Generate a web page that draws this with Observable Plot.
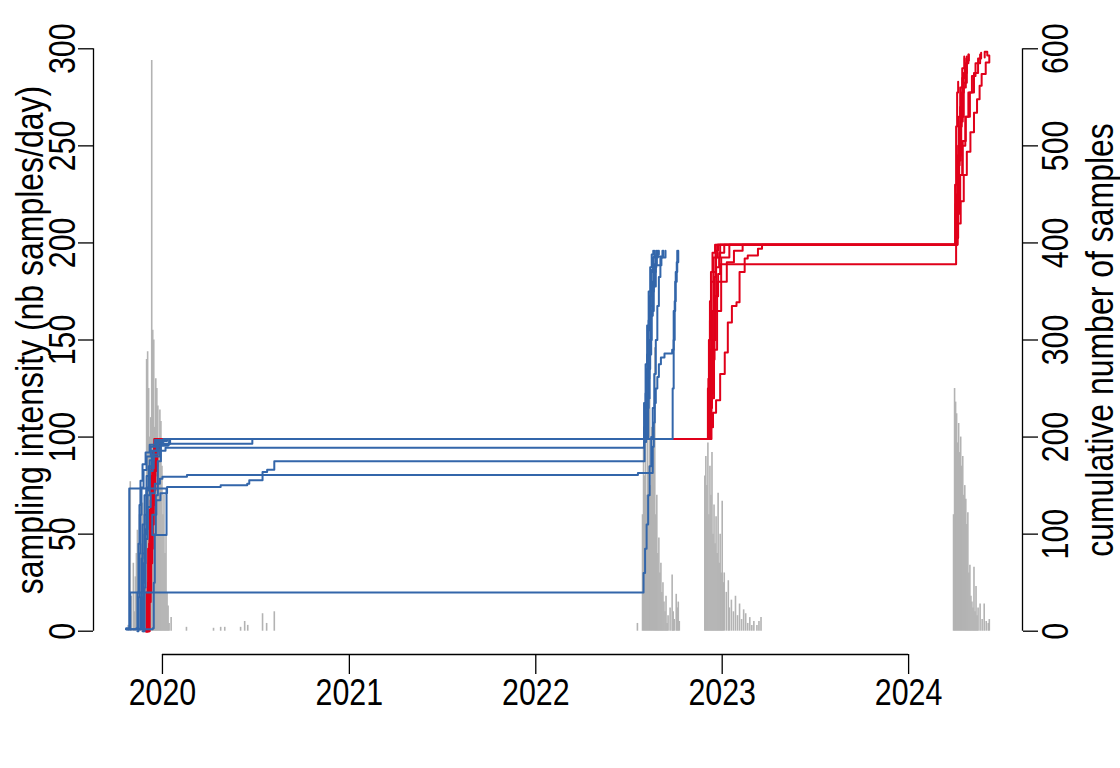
<!DOCTYPE html>
<html><head><meta charset="utf-8">
<script src="https://cdn.jsdelivr.net/npm/d3@7"></script>
<script src="https://cdn.jsdelivr.net/npm/@observablehq/plot@0.6"></script>
<style>html,body{margin:0;padding:0;background:#fff;} #chart{width:1120px;height:768px;}</style>
</head><body><div id="chart"></div>
<script>
// ---- daily sampling intensity (grey bars) ----
const barDates = [
"2019-10-26","2019-10-30","2019-11-01","2019-11-05","2019-11-07","2019-11-09","2019-11-11","2019-11-13","2019-11-15","2019-11-17",
"2019-11-19","2019-11-21","2019-11-23","2019-11-25","2019-11-27","2019-11-29","2019-12-01","2019-12-03","2019-12-05","2019-12-07",
"2019-12-09","2019-12-11","2019-12-13","2019-12-15","2019-12-17","2019-12-19","2019-12-21","2019-12-23","2019-12-25","2019-12-27",
"2019-12-29","2019-12-31","2020-01-02","2020-01-04","2020-01-06","2020-01-08","2020-01-10","2020-01-12","2020-01-14","2020-01-18",
"2020-02-17","2020-04-10","2020-04-24","2020-05-02","2020-06-02","2020-06-10","2020-06-16","2020-07-15","2020-07-23","2020-08-07",
"2022-07-19","2022-07-29","2022-07-31","2022-08-02","2022-08-04","2022-08-06","2022-08-08","2022-08-10","2022-08-12","2022-08-14",
"2022-08-16","2022-08-18","2022-08-20","2022-08-22","2022-08-24","2022-08-26","2022-08-28","2022-08-30","2022-09-01","2022-09-03",
"2022-09-05","2022-09-07","2022-09-09","2022-09-11","2022-09-13","2022-09-15","2022-09-17","2022-09-21","2022-09-25","2022-09-27",
"2022-09-29","2022-10-03","2022-10-05","2022-10-07","2022-10-09",
"2022-11-28","2022-11-30","2022-12-02","2022-12-04","2022-12-06","2022-12-08","2022-12-10","2022-12-12","2022-12-14","2022-12-16",
"2022-12-18","2022-12-20","2022-12-22","2022-12-24","2022-12-26","2022-12-28","2022-12-30","2023-01-01","2023-01-03","2023-01-05",
"2023-01-09","2023-01-13","2023-01-15","2023-01-19","2023-01-23","2023-01-27","2023-01-31","2023-02-04","2023-02-08","2023-02-12",
"2023-02-16","2023-02-20","2023-02-24","2023-02-28","2023-03-04","2023-03-10","2023-03-14","2023-03-18",
"2024-03-29","2024-03-31","2024-04-02","2024-04-04","2024-04-06","2024-04-08","2024-04-10","2024-04-12","2024-04-14","2024-04-16",
"2024-04-18","2024-04-20","2024-04-22","2024-04-24","2024-04-26","2024-04-28","2024-04-30","2024-05-02","2024-05-04","2024-05-06",
"2024-05-08","2024-05-10","2024-05-12","2024-05-14","2024-05-16","2024-05-20","2024-05-24","2024-05-28","2024-06-01","2024-06-05","2024-06-07"
];
const barCounts = [
3,77,18,35,10,28,40,52,30,60,
74,45,66,55,70,60,140,144,125,100,
110,294,155,150,105,130,125,116,95,114,
108,85,60,70,40,50,20,13,4,7,
2,1.5,2,2,2,5,3,9,4,10,
4,60,95,80,110,70,100,85,120,75,
105,90,98,146,60,70,40,48,30,35,
20,25,15,10,18,4,8,12,29,10,
6,19,12,15,5,
80,90,75,97,60,85,70,92,50,65,
45,59,40,71,35,50,30,67,25,30,
20,26,12,16,10,18,8,14,6,11,
9,4,7,3,5,3,5,7,
60,125,118,112,97,107,92,100,85,90,
70,75,68,55,61,30,34,18,15,12,
33,10,23,8,12,14,6,14,5,4,6
];

// ---- cumulative number of samples, blue group ----
const blue1 = [["2019-10-22",2],["2019-11-11",3],["2019-11-13",40],["2019-11-15",90],["2019-11-17",130],["2019-11-19",155],["2019-11-23",172],["2019-11-29",184],["2019-12-07",192],["2019-12-17",197],["2020-01-05",198],["2022-07-29",198],["2022-08-01",235],["2022-08-04",275],["2022-08-07",315],["2022-08-10",350],["2022-08-13",375],["2022-08-16",388],["2022-08-19",392]];
const blue2 = [["2019-11-13",0],["2019-11-15",35],["2019-11-17",80],["2019-11-19",120],["2019-11-21",148],["2019-11-25",166],["2019-12-01",180],["2019-12-09",190],["2019-12-19",196],["2020-01-10",198],["2022-07-31",198],["2022-08-03",230],["2022-08-06",270],["2022-08-09",310],["2022-08-12",345],["2022-08-15",370],["2022-08-18",385],["2022-08-22",392]];
const blue3 = [["2019-10-22",2],["2019-12-13",3],["2019-12-15",50],["2019-12-17",100],["2019-12-19",140],["2019-12-23",175],["2019-12-29",192],["2020-01-14",198],["2022-08-02",198],["2022-08-05",225],["2022-08-08",260],["2022-08-11",300],["2022-08-14",335],["2022-08-17",360],["2022-08-21",378],["2022-08-26",386],["2022-09-08",392]];
const blue4 = [["2019-11-17",2],["2019-11-19",35],["2019-11-21",75],["2019-11-23",110],["2019-11-27",140],["2019-12-01",160],["2019-12-07",176],["2019-12-15",186],["2019-12-25",191],["2020-01-12",193],["2020-06-25",198],["2022-08-04",198],["2022-08-07",230],["2022-08-10",270],["2022-08-13",300],["2022-08-16",330],["2022-08-20",355],["2022-08-24",377],["2022-09-04",385],["2022-09-12",392]];
const blue5 = [["2019-11-19",3],["2019-11-21",40],["2019-11-23",80],["2019-11-27",120],["2019-12-01",148],["2019-12-07",168],["2019-12-15",180],["2019-12-27",186],["2020-01-07",189],["2022-07-29",189],["2022-08-01",210],["2022-08-04",245],["2022-08-07",285],["2022-08-10",320],["2022-08-13",350],["2022-08-16",372],["2022-08-20",386],["2022-08-25",392]];
const blue6 = [["2019-10-22",3],["2019-10-28",45],["2019-10-28",147],["2020-01-09",99],["2019-12-12",120],["2019-12-20",135],["2019-12-28",142],["2020-01-10",148.6],["2020-04-24",150.3],["2020-06-15",152],["2020-06-19",155.5],["2020-07-15",164],["2020-07-24",166.4],["2020-08-07",175],["2022-07-29",175],["2022-08-02",195],["2022-08-05",225],["2022-08-08",260],["2022-08-11",295],["2022-08-14",325],["2022-08-17",350],["2022-08-20",370],["2022-08-24",385],["2022-08-28",392]];
const blue7 = [["2019-11-21",3],["2019-11-23",35],["2019-11-25",70],["2019-11-29",105],["2019-12-03",128],["2019-12-09",142],["2019-12-17",152],["2019-12-27",157],["2020-01-01",159],["2020-02-18",161],["2022-07-20",163],["2022-08-16",163],["2022-08-18",190],["2022-08-20",215],["2022-08-22",235],["2022-08-24",250],["2022-08-27",262],["2022-08-30",275],["2022-09-03",282],["2022-09-10",286],["2022-09-25",290],["2022-09-28",330],["2022-10-01",360],["2022-10-04",380],["2022-10-07",392]];
const blue8 = [["2019-10-22",2],["2019-10-30",40],["2022-07-28",40],["2022-07-31",60],["2022-08-03",85],["2022-08-06",110],["2022-08-09",140],["2022-08-12",170],["2022-08-15",200],["2022-08-18",230],["2022-08-21",265],["2022-08-24",300],["2022-08-27",335],["2022-08-30",365],["2022-09-02",385],["2022-09-06",392]];
const blue9 = [["2019-11-23",0],["2019-11-25",50],["2019-11-27",100],["2019-12-01",145],["2019-12-05",170],["2019-12-11",186],["2019-12-21",195],["2020-01-03",198],["2022-08-06",198],["2022-08-09",240],["2022-08-12",285],["2022-08-15",325],["2022-08-18",355],["2022-08-21",375],["2022-08-25",388],["2022-08-30",392]];
const blue10 = [["2019-11-25",0],["2019-11-27",45],["2019-11-29",95],["2019-12-03",140],["2019-12-07",165],["2019-12-13",182],["2019-12-23",193],["2020-01-16",198],["2022-09-25",198],["2022-09-26",250],["2022-09-28",300],["2022-09-30",340],["2022-10-02",370],["2022-10-05",392]];

// ---- cumulative number of samples, red group ----
const red1 = [["2019-11-28",0],["2019-12-01",40],["2019-12-04",85],["2019-12-07",125],["2019-12-10",160],["2019-12-13",185],["2019-12-16",198],["2022-12-02",198],["2022-12-04",250],["2022-12-06",300],["2022-12-08",340],["2022-12-10",370],["2022-12-13",390],["2022-12-18",398],["2024-03-31",398],["2024-04-01",460],["2024-04-03",520],["2024-04-05",555],["2024-04-07",566]];
const red2 = [["2019-11-30",0],["2019-12-03",40],["2019-12-06",80],["2019-12-09",120],["2019-12-12",155],["2019-12-15",180],["2019-12-19",198],["2022-12-02",198],["2022-12-05",260],["2022-12-08",320],["2022-12-11",360],["2022-12-15",385],["2022-12-22",398],["2024-03-31",398],["2024-04-02",430],["2024-04-06",480],["2024-04-10",520],["2024-04-14",555],["2024-04-18",575],["2024-04-24",592]];
const red3 = [["2019-12-01",0],["2019-12-04",35],["2019-12-07",75],["2019-12-10",115],["2019-12-13",150],["2019-12-16",178],["2019-12-20",198],["2022-12-03",198],["2022-12-06",240],["2022-12-09",290],["2022-12-12",330],["2022-12-16",365],["2022-12-20",385],["2022-12-28",398],["2024-04-01",398],["2024-04-04",440],["2024-04-08",485],["2024-04-12",525],["2024-04-16",560],["2024-04-22",585],["2024-04-27",594]];
const red4 = [["2019-12-02",2],["2019-12-05",45],["2019-12-08",85],["2019-12-11",125],["2019-12-14",160],["2019-12-18",188],["2019-12-22",198],["2022-12-04",198],["2022-12-08",250],["2022-12-12",300],["2022-12-16",345],["2022-12-20",375],["2022-12-26",390],["2023-01-05",398],["2024-03-31",398],["2024-04-03",450],["2024-04-07",500],["2024-04-11",540],["2024-04-15",570],["2024-04-20",590]];
const red5 = [["2019-11-29",0],["2019-12-02",30],["2019-12-05",70],["2019-12-08",110],["2019-12-11",145],["2019-12-14",175],["2019-12-18",195],["2019-12-24",198],["2022-12-04",198],["2022-12-07",230],["2022-12-12",280],["2022-12-17",330],["2022-12-22",360],["2022-12-30",385],["2023-01-15",398],["2024-04-01",398],["2024-04-05",445],["2024-04-09",490],["2024-04-13",530],["2024-04-18",565],["2024-04-24",588],["2024-04-28",594]];
const red6 = [["2019-12-03",0],["2019-12-06",30],["2019-12-09",70],["2019-12-12",110],["2019-12-15",145],["2019-12-18",170],["2019-12-22",190],["2019-12-27",198],["2022-12-05",198],["2022-12-09",245],["2022-12-14",300],["2022-12-19",345],["2022-12-24",368],["2022-12-28",378],["2024-04-02",378],["2024-04-03",405],["2024-04-07",440],["2024-04-11",470],["2024-04-15",500],["2024-04-21",530],["2024-04-27",555],["2024-05-04",572],["2024-05-11",585],["2024-05-20",594]];
const red7 = [["2019-12-01",0],["2019-12-04",50],["2019-12-07",95],["2019-12-10",135],["2019-12-13",170],["2019-12-17",192],["2019-12-21",198],["2022-12-06",198],["2022-12-10",210],["2022-12-14",225],["2022-12-20",238],["2022-12-28",265],["2023-01-06",287],["2023-01-12",318],["2023-01-20",335],["2023-01-29",339],["2023-02-04",370],["2023-02-14",384],["2023-02-20",387],["2023-03-12",394],["2023-03-20",398],["2024-04-02",398],["2024-04-06",420],["2024-04-12",443],["2024-04-18",470],["2024-04-24",494],["2024-05-01",514],["2024-05-08",534],["2024-05-14",548],["2024-05-19",562],["2024-05-23",574],["2024-05-31",586],["2024-06-07",593],["2024-06-03",597],["2024-05-29",591]];
const red8 = [["2019-12-04",0],["2019-12-07",40],["2019-12-10",85],["2019-12-13",130],["2019-12-16",165],["2019-12-20",188],["2019-12-26",198],["2022-12-03",198],["2022-12-07",270],["2022-12-11",330],["2022-12-15",370],["2022-12-19",392],["2022-12-24",398],["2024-04-01",398],["2024-04-05",430],["2024-04-10",470],["2024-04-16",505],["2024-04-22",530],["2024-04-30",555],["2024-05-08",575],["2024-05-16",590],["2024-05-22",596]];
const red9 = [["2019-11-30",0],["2019-12-03",45],["2019-12-06",90],["2019-12-09",135],["2019-12-12",170],["2019-12-16",192],["2019-12-20",198],["2022-12-06",198],["2022-12-11",240],["2022-12-16",290],["2022-12-22",330],["2022-12-30",360],["2023-01-10",380],["2023-01-24",392],["2023-02-10",398],["2024-03-31",398],["2024-04-02",440],["2024-04-05",490],["2024-04-08",530],["2024-04-11",560],["2024-04-15",580],["2024-04-19",592]];

// ---- axes ----
const leftTicks = [0, 50, 100, 150, 200, 250, 300];     // sampling intensity
const rightTicks = [0, 100, 200, 300, 400, 500, 600];   // cumulative number
const yearTicks = ["2020-01-01","2021-01-01","2022-01-01","2023-01-01","2024-01-01"];
const leftTitle = "sampling intensity (nb samples/day)";
const rightTitle = "cumulative number of samples";
const xDomain = ["2019-08-19","2024-08-11"];

// ---- build tables ----
const bars = barDates.map((d, i) => ({date: new Date(d), count: barCounts[i]}));
const toRows = (list, prefix) => list.flatMap((s, i) => s.map(([d, v]) => ({series: prefix + i, date: new Date(d), half: v / 2})));
const blueRows = toRows([blue1, blue2, blue3, blue4, blue5, blue6, blue7, blue8, blue9, blue10], "b");
const redRows = toRows([red1, red2, red3, red4, red5, red6, red7, red8, red9], "r");
const years = yearTicks.map(d => new Date(d));
const xd = xDomain.map(d => new Date(d));

function hasFont(name) {
  const c = document.createElement("canvas").getContext("2d");
  const s = "2020 sampling intensity";
  c.font = "40px monospace"; const a = c.measureText(s).width;
  c.font = `40px '${name}', monospace`; const b = c.measureText(s).width;
  return Math.abs(a - b) > 0.5;
}
const narrow = ["Liberation Sans Narrow", "Arial Narrow", "Nimbus Sans Narrow"].find(hasFont);
const family = narrow ? `'${narrow}', 'Liberation Sans', sans-serif` : "'Liberation Sans', Arial, sans-serif";
const FS = 37, TFS = 39;
const BLUE = "#3366AA", RED = "#E0001A", GREY = "#B3B3B3";

const svg = Plot.plot({
  width: 1120, height: 768,
  marginLeft: 93, marginRight: 98, marginTop: 25, marginBottom: 114,
  style: {fontFamily: family, background: "#fff", color: "#000"},
  x: {type: "utc", domain: xd},
  y: {domain: [-12, 312]},
  marks: [
    Plot.ruleX(bars, {x: "date", y1: 0, y2: "count", stroke: GREY, strokeWidth: 1.6}),
    Plot.line(redRows, {x: "date", y: "half", z: "series", curve: "step-after", stroke: RED, strokeWidth: 2}),
    Plot.line(blueRows, {x: "date", y: "half", z: "series", curve: "step-after", stroke: BLUE, strokeWidth: 2}),
    // axis lines
    Plot.ruleX([xd[0]], {y1: 0, y2: 300, stroke: "#000", strokeWidth: 1.3}),
    Plot.ruleX([xd[1]], {y1: 0, y2: 300, stroke: "#000", strokeWidth: 1.3}),
    Plot.ruleY([-12], {x1: () => years[0], x2: () => years[years.length - 1], stroke: "#000", strokeWidth: 1.3}),
    // x axis
    Plot.axisX({ticks: years, tickSize: 20, tickPadding: 4, tickFormat: d3.utcFormat("%Y"), fontSize: FS, label: null, strokeWidth: 1.3}),
    // left axis
    Plot.axisY({anchor: "left", ticks: leftTicks, tickSize: 15, tickFormat: () => "", label: null, strokeWidth: 1.3}),
    Plot.text(leftTicks, {y: d => d, text: d => String(d), frameAnchor: "left", dx: -19, rotate: -90, textAnchor: "middle", lineAnchor: "bottom", fontSize: FS}),
    // right axis (cumulative = 2 x intensity scale)
    Plot.axisY({anchor: "right", ticks: rightTicks.map(v => v / 2), tickSize: 15, tickFormat: () => "", label: null, strokeWidth: 1.3}),
    Plot.text(rightTicks, {y: d => d / 2, text: d => String(d), frameAnchor: "right", dx: 19, rotate: -90, textAnchor: "middle", lineAnchor: "top", fontSize: FS}),
    // titles
    Plot.text([leftTitle], {frameAnchor: "left", dx: -63, rotate: -90, textAnchor: "middle", lineAnchor: "middle", fontSize: TFS}),
    Plot.text([rightTitle], {frameAnchor: "right", dx: 78, rotate: -90, textAnchor: "middle", lineAnchor: "middle", fontSize: TFS})
  ]
});
document.getElementById("chart").append(svg);
if (!narrow) {
  svg.querySelectorAll("text").forEach(t => {
    const L = t.getComputedTextLength();
    if (L > 0) { t.setAttribute("textLength", (L * 0.82).toFixed(1)); t.setAttribute("lengthAdjust", "spacingAndGlyphs"); }
  });
}
</script></body></html>
